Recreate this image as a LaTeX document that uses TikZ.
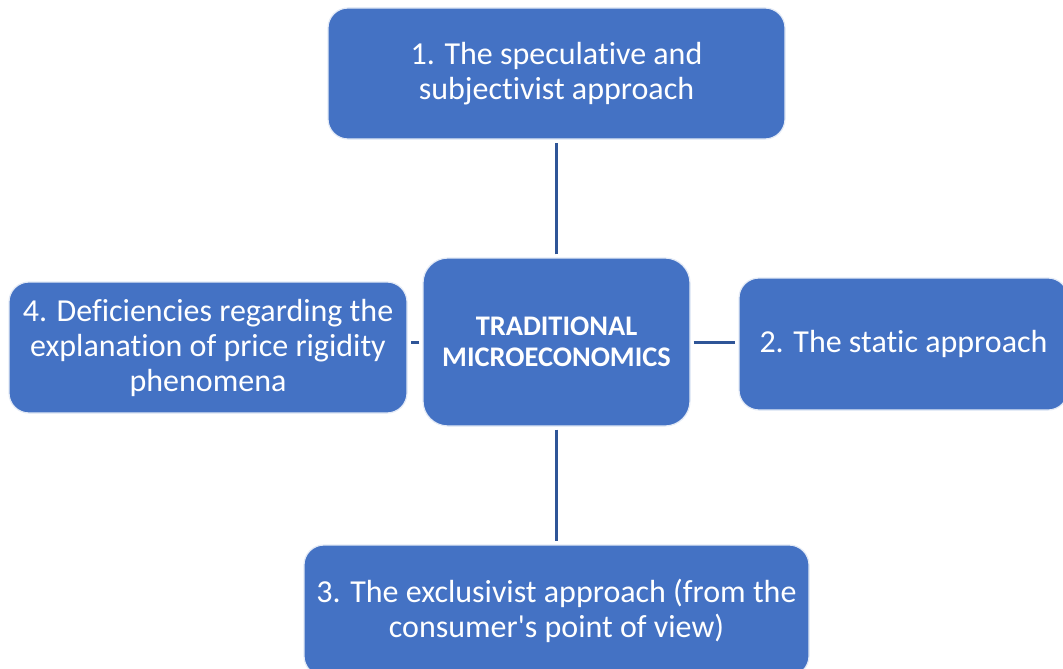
\documentclass[tikz,border=0pt]{standalone}
\usepackage{fontspec}
\setmainfont[RawFeature=-liga]{Carlito}
\definecolor{boxblue}{HTML}{4472C4}
\definecolor{linkblue}{HTML}{2F5597}
\tikzset{
  topic/.style={rectangle, rounded corners=20pt, fill=boxblue, draw=white!85!boxblue,
    line width=1.2pt, text=white, align=center, inner sep=0pt,
    font=\fontsize{32}{35}\selectfont},
  hub/.style={topic, rounded corners=25pt, font=\bfseries\fontsize{28.4}{31}\selectfont},
  link/.style={draw=linkblue, line width=3pt, shorten <=3pt, shorten >=3pt}
}
\begin{document}
\begin{tikzpicture}[x=1pt,y=-1pt]
  \useasboundingbox (0,0) rectangle (1063,669);
  \clip (0,0) rectangle (1063,669);
  \fill[white] (0,0) rectangle (1063,669);

  \node[hub, minimum width=267pt, minimum height=168pt] (core) at (556.5,342)
    {TRADITIONAL\\MICROECONOMICS};

  \node[topic, minimum width=457pt, minimum height=131pt] (spec) at (556.5,73.5)
    {1. The speculative and\\subjectivist approach};
  \node[topic, minimum width=329pt, minimum height=132pt] (stat) at (903.5,344)
    {2. The static approach};
  \node[topic, minimum width=505pt, minimum height=131pt] (excl) at (556.5,610.5)
    {3. The exclusivist approach (from the\\consumer\textquotesingle s point of view)};
  \node[topic, minimum width=398pt, minimum height=131pt] (defi) at (208,347.5)
    {4. Deficiencies regarding the\\explanation of price rigidity\\phenomena};

  \draw[link] (core.north) -- (spec.south);
  \draw[link] (core.south) -- (excl.north);
  \draw[link] (core.east) -- (core.east -| stat.west);
  \draw[link] (core.west) -- (core.west -| defi.east);
\end{tikzpicture}
\end{document}
